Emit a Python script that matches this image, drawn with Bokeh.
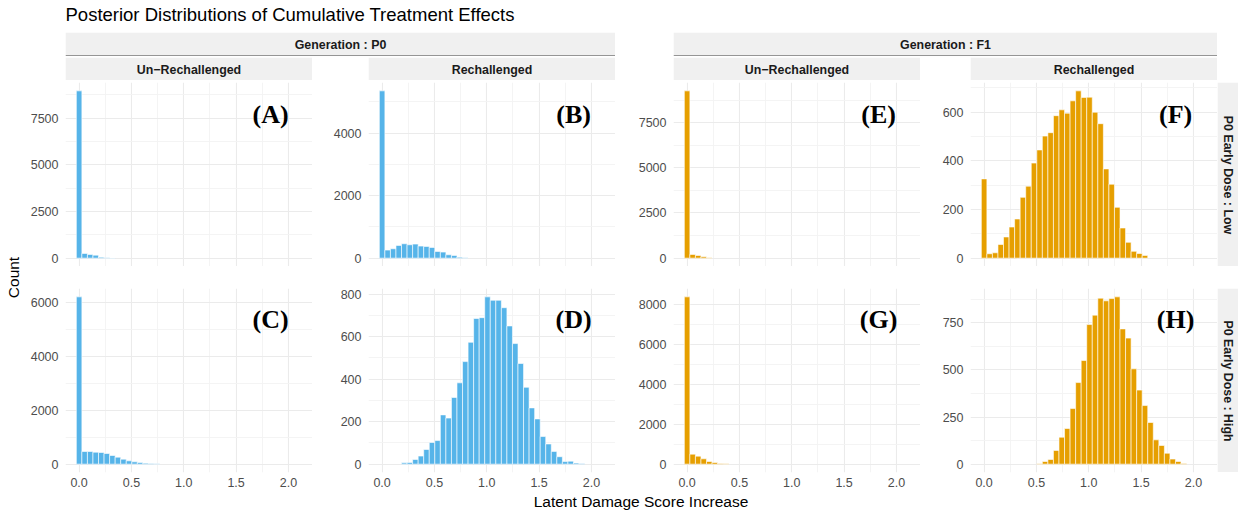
from bokeh.plotting import figure
from bokeh.models import Range1d, FixedTicker, Label, Span, Spacer, Grid, NumeralTickFormatter
from bokeh.layouts import row, column
from bokeh.embed import file_html
from bokeh.resources import INLINE
from bokeh.core.properties import value

# ---------------- data ----------------
BIN_W = 0.053  # histogram bin width
x_ticks = [0.0, 0.5, 1.0, 1.5, 2.0]
x_minor = [0.25, 0.75, 1.25, 1.75]

counts_A = [8970, 251, 197, 161, 54, 18, 6]
start_A = 0
counts_B = [5350, 257, 300, 407, 460, 428, 449, 385, 375, 342, 214, 193, 107, 86, 32, 11]
start_B = 0
counts_C = [6200, 468, 468, 443, 431, 394, 320, 259, 185, 123, 86, 62, 37, 25, 12]
start_C = 0
counts_D = [6, 8, 22, 38, 69, 102, 111, 232, 217, 314, 383, 483, 574, 686, 690, 788,
            772, 772, 737, 651, 568, 474, 362, 265, 213, 130, 95, 60, 35, 12, 14, 5, 3]
start_D = 4
counts_E = [9260, 204, 148, 74, 19]
start_E = 0
counts_F = [326, 18, 22, 56, 87, 128, 161, 250, 296, 391, 445, 502, 516, 586, 610,
            596, 647, 688, 661, 662, 600, 553, 367, 304, 209, 124, 65, 28, 19, 11]
start_F = 0
counts_G = [8380, 500, 400, 267, 133, 83, 33, 15]
start_G = 0
counts_H = [2, 14, 25, 73, 143, 189, 295, 433, 550, 741, 791, 881, 867, 879, 888,
            718, 669, 506, 393, 311, 221, 129, 99, 58, 27, 14, 4]
start_H = 10

yticks_A = [0, 2500, 5000, 7500]
yticks_B = [0, 2000, 4000]
yticks_C = [0, 2000, 4000, 6000]
yticks_D = [0, 200, 400, 600, 800]
yticks_E = [0, 2500, 5000, 7500]
yticks_F = [0, 200, 400, 600]
yticks_G = [0, 2000, 4000, 6000, 8000]
yticks_H = [0, 250, 500, 750]

generations = ["Generation : P0", "Generation : F1"]
treatments = ["Un\u2212Rechallenged", "Rechallenged"]
doses = ["P0 Early Dose : Low", "P0 Early Dose : High"]
panel_labels = ["(A)", "(B)", "(C)", "(D)", "(E)", "(F)", "(G)", "(H)"]
title_text = "Posterior Distributions of Cumulative Treatment Effects"
x_title = "Latent Damage Score Increase"
y_title = "Count"

BLUE = "#56B4E9"
ORANGE = "#E69F00"
STRIP = "#F0F0F0"
FONT = "Liberation Sans"

X_LO, X_HI = -0.13, 2.23
FRAME_W = 247
FRAME_H = 184


def bare(width, height, xr, yr, bg="white"):
    p = figure(width=width, height=height, x_range=xr, y_range=yr,
               output_backend="svg", toolbar_location=None,
               x_axis_location=None, y_axis_location=None,
               min_border=0, min_border_left=0, min_border_right=0,
               min_border_top=0, min_border_bottom=0,
               outline_line_color=None, background_fill_color=bg,
               border_fill_color=bg)
    p.grid.visible = False
    return p


def minor_of(ticks, hi):
    step = ticks[1] - ticks[0]
    out = []
    t = ticks[0] + step / 2
    while t < hi:
        out.append(t)
        t += step
    return out


def panel(counts, start, color, yticks, label, width, left, bottom_axis):
    M = max(counts)
    lo, hi = -0.05 * M, 1.05 * M
    bb = 22 if bottom_axis else 0
    p = figure(width=width, height=FRAME_H + bb,
               x_range=Range1d(X_LO, X_HI), y_range=Range1d(lo, hi),
               output_backend="svg", toolbar_location=None,
               x_axis_location="below" if bottom_axis else None,
               min_border_left=left, min_border_right=0, min_border_top=0,
               min_border_bottom=bb,
               outline_line_color=None, background_fill_color="white",
               border_fill_color="white")
    p.grid.visible = False
    p.add_layout(Grid(dimension=0,
                      ticker=FixedTicker(ticks=x_ticks, minor_ticks=x_minor),
                      grid_line_color="#EBEBEB", grid_line_width=1.1,
                      minor_grid_line_color="#F3F3F3", minor_grid_line_width=0.9))
    p.add_layout(Grid(dimension=1,
                      ticker=FixedTicker(ticks=yticks, minor_ticks=minor_of(yticks, hi)),
                      grid_line_color="#EBEBEB", grid_line_width=1.1,
                      minor_grid_line_color="#F3F3F3", minor_grid_line_width=0.9))
    axes = list(p.yaxis) + (list(p.xaxis) if bottom_axis else [])
    for ax in axes:
        ax.axis_line_color = None
        ax.major_tick_line_color = None
        ax.minor_tick_line_color = None
        ax.major_tick_out = 0
        ax.major_tick_in = 0
        ax.major_label_text_color = "#4D4D4D"
        ax.major_label_text_font = FONT
        ax.major_label_text_font_size = "12.5px"
    p.yaxis.ticker = FixedTicker(ticks=yticks)
    p.yaxis.major_label_standoff = 7
    if bottom_axis:
        p.xaxis.ticker = FixedTicker(ticks=x_ticks)
        p.xaxis.formatter = NumeralTickFormatter(format="0.0")
        p.xaxis.major_label_standoff = 5
    centers = [(start + i) * BIN_W for i in range(len(counts))]
    p.vbar(x=centers, top=counts, bottom=0, width=BIN_W,
           fill_color=color, line_color="white", line_width=0.6)
    frac = 0.174 if not bottom_axis else 0.17
    p.add_layout(Label(x=1.83, y=hi - frac * (hi - lo), text=label,
                       text_font="Liberation Serif", text_font_style="bold",
                       text_font_size="26px", text_color="#000000",
                       text_align="center", text_baseline="middle"))
    return p


def strip(text, width, height, line=False, angle=0.0):
    p = bare(width, height, Range1d(0, width), Range1d(height, 0), bg="white")
    sh = height - 1 if line else height
    p.quad(left=[0], right=[width], top=[0], bottom=[sh], fill_color=STRIP, line_color=None)
    p.text(x=[width / 2], y=[sh / 2 + 0.5], text=[text], angle=angle,
           text_align="center", text_baseline="middle",
           text_font=value(FONT), text_font_style="bold",
           text_font_size="12.4px", text_color="#1A1A1A")
    if line:
        p.add_layout(Span(location=height - 0.5, dimension="width",
                          line_color="#333333", line_width=1))
    return p


# ---------------- title ----------------
title_fig = bare(1238, 32, Range1d(0, 1238), Range1d(32, 0))
title_fig.text(x=[65], y=[14], text=[title_text], text_align="left",
               text_baseline="middle", text_font=value(FONT),
               text_font_size="18.5px", text_color="#000000")

# ---------------- strips ----------------
gen_row = row(Spacer(width=65, height=24),
              strip(generations[0], 550, 24, line=True),
              Spacer(width=58, height=24),
              strip(generations[1], 544, 24, line=True),
              Spacer(width=21, height=24))
sub_row = row(Spacer(width=65, height=23),
              strip(treatments[0], 247, 23),
              Spacer(width=56, height=23),
              strip(treatments[1], 247, 23),
              Spacer(width=58, height=23),
              strip(treatments[0], 247, 23),
              Spacer(width=50, height=23),
              strip(treatments[1], 247, 23),
              Spacer(width=21, height=23))

# ---------------- panels ----------------
cols_spec = [
    (290, 43, (counts_A, start_A, BLUE, yticks_A, panel_labels[0]),
              (counts_C, start_C, BLUE, yticks_C, panel_labels[2])),
    (303, 56, (counts_B, start_B, BLUE, yticks_B, panel_labels[1]),
              (counts_D, start_D, BLUE, yticks_D, panel_labels[3])),
    (305, 58, (counts_E, start_E, ORANGE, yticks_E, panel_labels[4]),
              (counts_G, start_G, ORANGE, yticks_G, panel_labels[6])),
    (297, 50, (counts_F, start_F, ORANGE, yticks_F, panel_labels[5]),
              (counts_H, start_H, ORANGE, yticks_H, panel_labels[7])),
]
body_cols = []
for w, left, top_spec, bot_spec in cols_spec:
    ptop = panel(*top_spec, width=w, left=left, bottom_axis=False)
    pbot = panel(*bot_spec, width=w, left=left, bottom_axis=True)
    body_cols.append(column(ptop, Spacer(width=w, height=22), pbot))

count_fig = bare(22, 412, Range1d(0, 22), Range1d(412, 0))
count_fig.text(x=[13], y=[195], text=[y_title], angle=1.5707963,
               text_align="center", text_baseline="middle",
               text_font=value(FONT), text_font_size="15.5px", text_color="#000000")

right_col = column(strip(doses[0], 21, FRAME_H, angle=-1.5707963),
                   Spacer(width=21, height=22),
                   strip(doses[1], 21, FRAME_H, angle=-1.5707963),
                   Spacer(width=21, height=22))

body = row(count_fig, *body_cols, right_col)

xlab_fig = bare(1152, 16, Range1d(0, 1152), Range1d(16, 0))
xlab_fig.text(x=[575.5], y=[7], text=[x_title], text_align="center",
              text_baseline="middle", text_font=value(FONT),
              text_font_size="15.5px", text_color="#000000")
xlab_row = row(Spacer(width=65, height=16), xlab_fig, Spacer(width=21, height=16))

layout = column(title_fig, gen_row, Spacer(width=1238, height=1), sub_row,
                Spacer(width=1238, height=2), body, xlab_row)

open("out.html", "w").write(file_html(layout, INLINE))
